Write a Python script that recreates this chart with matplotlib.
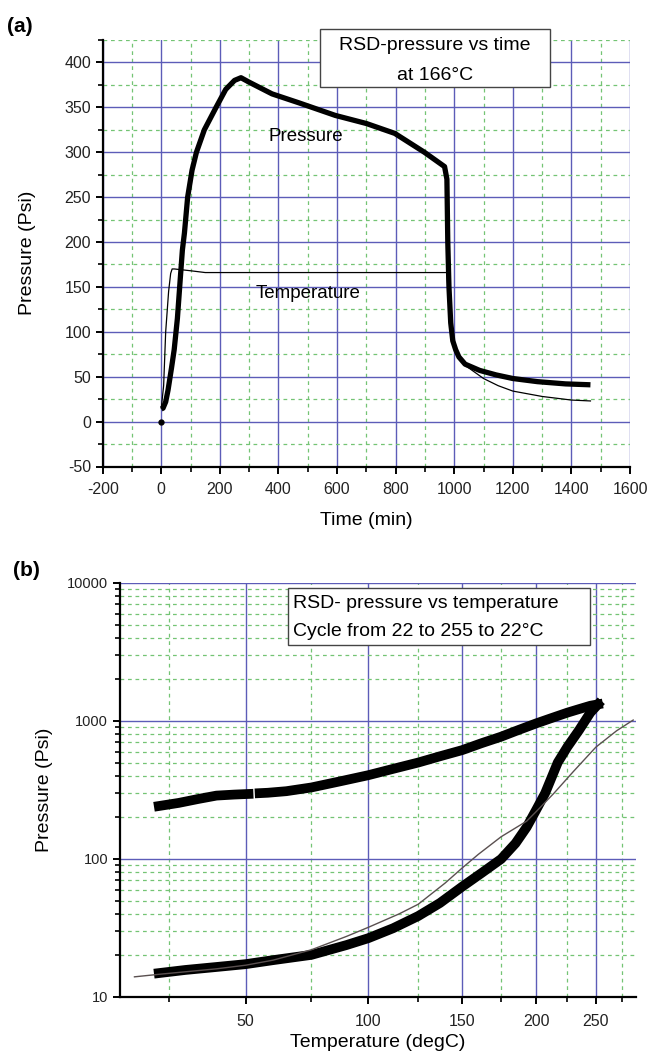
import numpy as np
import matplotlib
matplotlib.use("Agg")
import matplotlib.pyplot as plt
from matplotlib.patches import Rectangle
from matplotlib.ticker import MultipleLocator, LogLocator, NullFormatter, FixedLocator

plt.rcParams['font.family'] = ['Liberation Sans', 'DejaVu Sans']
plt.rcParams['axes.unicode_minus'] = False

# ---------------- Data: panel (a) ----------------
press_time = [0, 6, 15, 23, 35, 44, 55, 65, 72, 79, 90, 105, 120, 147, 187, 220, 250, 272,
              300, 378, 470, 594, 700, 797, 898, 967, 975, 978, 982, 988, 995, 1005, 1016,
              1037, 1087, 1143, 1200, 1284, 1380, 1465]
press_val = [14, 15, 22, 35, 60, 80, 115, 160, 191, 210, 250, 280, 300, 325, 350, 370, 380, 383,
             378, 365, 355, 341, 332, 321, 300, 284, 270, 200, 150, 110, 90, 80, 72,
             64, 57, 52, 48, 44.5, 42, 41]
temp_time = [0, 8, 15, 25, 32, 37, 45, 100, 150, 975, 978, 982, 988, 995, 1005, 1016, 1040,
             1100, 1150, 1200, 1300, 1400, 1465]
temp_val = [15, 40, 100, 145, 165, 170, 170, 168, 166, 166, 150, 130, 105, 88, 78, 70, 62,
            48, 40, 34, 28, 24, 23]
start_point = (0, 0)

# ---------------- Data: panel (b) ----------------
heat_T = [22, 30, 40, 50, 60, 75, 90, 100, 112, 125, 137, 150, 162, 175, 185, 193, 200,
          207, 217, 225, 235, 245, 252]
heat_P = [14.9, 15.7, 16.5, 17.3, 18.5, 20.2, 23.8, 26.7, 31.5, 38.6, 48, 63, 79, 100, 130,
          170, 226, 300, 500, 650, 860, 1150, 1320]
cool_T = [252, 245, 235, 225, 212, 200, 187, 175, 162, 150, 137, 125, 112, 100, 87, 75,
          65, 58, 55, np.nan, 51, 46, 40, 34, 28, 22]
cool_P = [1320, 1290, 1220, 1150, 1050, 960, 860, 770, 690, 615, 555, 500, 450, 405, 365, 330,
          310, 302, 300, np.nan, 296, 293, 288, 272, 255, 242]
fit_T = [15, 22, 40, 50, 60, 75, 90, 100, 115, 125, 140, 150, 160, 175, 193, 200, 214,
         230, 250, 270, 287]
fit_P = [14.0, 14.6, 16, 17, 18.5, 22, 27.5, 32, 40, 47, 67, 86, 108, 145, 188, 220, 300,
         430, 646, 850, 1016]

x_major_b = [50, 100, 150, 200, 250]
x_minor_b = [25, 75, 125, 175, 225, 275]
y_major_b = [10, 100, 1000, 10000]

BLUE = '#5c5cb8'
GREEN = '#74c474'

fig = plt.figure(figsize=(6.5, 10.58), dpi=100)

def style_axes(ax):
    for s in ['top', 'right']:
        ax.spines[s].set_visible(False)
    for s in ['left', 'bottom']:
        ax.spines[s].set_linewidth(1.6)
    ax.tick_params(which='major', direction='out', length=5, width=1.4, labelsize=11.5,
                   colors='black', labelcolor='#222222')
    ax.tick_params(axis='x', which='major', pad=6)
    ax.tick_params(which='minor', direction='out', length=3.5, width=1.2)
    ax.xaxis.grid(True, which='major', color=BLUE, lw=1.0)
    ax.yaxis.grid(True, which='major', color=BLUE, lw=1.0)
    ax.xaxis.grid(True, which='minor', color=GREEN, lw=0.9, linestyle=(0, (3, 3)))
    ax.yaxis.grid(True, which='minor', color=GREEN, lw=0.9, linestyle=(0, (3, 3)))
    ax.set_axisbelow(True)

# ---------------- Panel (a) ----------------
ax1 = fig.add_axes([102.7/650, 1-466.5/1058, (630-102.7)/650, (466.5-40)/1058])
ax1.plot(press_time, press_val, color='black', lw=3.8, solid_joinstyle='round',
         solid_capstyle='butt', zorder=3)
ax1.plot(temp_time, temp_val, color='black', lw=0.9, zorder=4)
ax1.plot([start_point[0]], [start_point[1]], 'o', color='black', ms=3.5, zorder=4)
ax1.set_xlim(-200, 1600)
ax1.set_ylim(-50, 425)
ax1.set_xticks(np.arange(-200, 1601, 200))
ax1.set_yticks(np.arange(-50, 401, 50))
ax1.xaxis.set_minor_locator(MultipleLocator(100))
ax1.yaxis.set_minor_locator(MultipleLocator(25))
style_axes(ax1)
ax1.set_xlabel('Time (min)', fontsize=14, labelpad=11)
ax1.set_ylabel('Pressure (Psi)', fontsize=14, labelpad=20)
ax1.text(492, 317, 'Pressure', fontsize=13.5, ha='center', va='center', zorder=5)
ax1.text(500, 143, 'Temperature', fontsize=13.5, ha='center', va='center', zorder=5)

fig.add_artist(Rectangle((320/650, 1-87/1058), 230/650, 58/1058, transform=fig.transFigure,
                         facecolor='white', edgecolor='#444444', lw=1.0, zorder=5))
fig.text(435/650, 1-45/1058, 'RSD-pressure vs time', fontsize=14, ha='center', va='center', zorder=6)
fig.text(435/650, 1-75/1058, 'at 166°C', fontsize=14, ha='center', va='center', zorder=6)
fig.text(7/650, 1-27/1058, '(a)', fontsize=15, fontweight='bold', ha='left', va='center')

# ---------------- Panel (b) ----------------
def fwd(T):
    T = np.asarray(T, dtype=float)
    return -1000.0 / (T + 273.15)

def inv(u):
    u = np.asarray(u, dtype=float)
    with np.errstate(divide='ignore'):
        return -1000.0 / u - 273.15

ax2 = fig.add_axes([120/650, 1-997/1058, (636-120)/650, (997-583)/1058])
ax2.set_xscale('function', functions=(fwd, inv))
ax2.set_yscale('log')
ax2.plot(fit_T, fit_P, color='#5a5050', lw=1.0, zorder=4)
ax2.plot(heat_T, heat_P, color='black', lw=7.0, solid_capstyle='projecting',
         solid_joinstyle='round', zorder=3)
ax2.plot(cool_T, cool_P, color='black', lw=7.0, solid_capstyle='projecting',
         solid_joinstyle='round', zorder=3)
ax2.set_xlim(11, 290)
ax2.set_ylim(10, 10000)
ax2.xaxis.set_major_locator(FixedLocator(x_major_b))
ax2.set_xticklabels([str(v) for v in x_major_b])
ax2.xaxis.set_minor_locator(FixedLocator(x_minor_b))
ax2.xaxis.set_minor_formatter(NullFormatter())
ax2.yaxis.set_major_locator(FixedLocator(y_major_b))
ax2.set_yticklabels([str(v) for v in y_major_b])
ax2.yaxis.set_minor_locator(LogLocator(base=10, subs=np.arange(2, 10)))
ax2.yaxis.set_minor_formatter(NullFormatter())
style_axes(ax2)
ax2.tick_params(axis='y', which='major', labelsize=10.5)
ax2.tick_params(axis='x', which='major', pad=7)
ax2.set_xlabel('Temperature (degC)', fontsize=14, labelpad=4)
ax2.set_ylabel('Pressure (Psi)', fontsize=14, labelpad=10)

fig.add_artist(Rectangle((288/650, 1-645/1058), 302/650, 57/1058, transform=fig.transFigure,
                         facecolor='white', edgecolor='#444444', lw=1.0, zorder=5))
fig.text(293/650, 1-603/1058, 'RSD- pressure vs temperature', fontsize=14, ha='left', va='center', zorder=6)
fig.text(293/650, 1-632/1058, 'Cycle from 22 to 255 to 22°C', fontsize=14, ha='left', va='center', zorder=6)
fig.text(13/650, 1-570/1058, '(b)', fontsize=15, fontweight='bold', ha='left', va='center')

fig.savefig('out.png', dpi=100)
